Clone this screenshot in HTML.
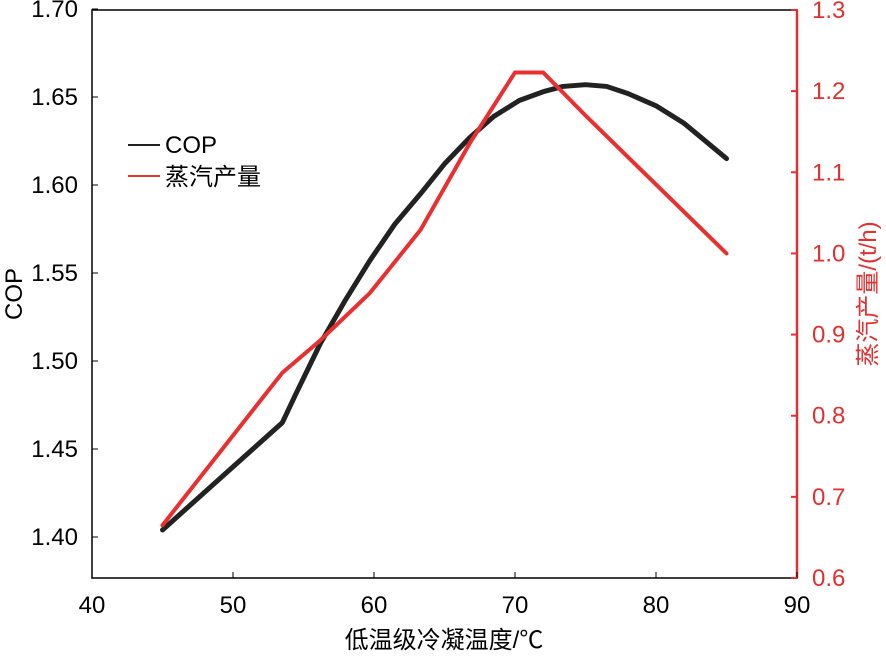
<!DOCTYPE html>
<html><head><meta charset="utf-8"><style>
body{margin:0;background:#fff;width:886px;height:656px;overflow:hidden}
text{font-family:"Liberation Sans","Noto Sans CJK SC",sans-serif}
</style></head><body>
<svg id="chart" width="886" height="656"></svg>
<script>
const xTicks=[40,50,60,70,80,90];
const copTicks=[1.40,1.45,1.50,1.55,1.60,1.65,1.70];
const steamTicks=[0.6,0.7,0.8,0.9,1.0,1.1,1.2,1.3];
const copX=[45,53.5,54.5,56.2,58,59.7,61.5,63.3,65,66.8,68.5,70.3,72,73.4,75,76.5,78,80,82,85];
const copY=[1.404,1.465,1.482,1.510,1.535,1.557,1.578,1.595,1.612,1.627,1.639,1.648,1.653,1.656,1.657,1.656,1.652,1.645,1.635,1.615];
const steamX=[45,53.5,56.2,59.7,63.3,66.8,70,72,75,80,85];
const steamY=[0.665,0.853,0.893,0.951,1.029,1.136,1.223,1.223,1.17,1.085,1.0];

const L=92,R=797,T=10,B=578;
const sx=v=>L+(v-40)/50*(R-L);
const syL=v=>537-(v-1.40)/0.05*88;
const syR=v=>B-(v-0.6)/0.7*(B-T);
const svg=document.getElementById('chart');
const NS='http://www.w3.org/2000/svg';
function mk(tag,attrs,parent){const e=document.createElementNS(NS,tag);for(const k in attrs)e.setAttribute(k,attrs[k]);(parent||svg).appendChild(e);return e;}

const frame=mk('rect',{x:L,y:T,width:R-L,height:B-T,fill:'none',stroke:'#000','stroke-width':1.5});


const ra=mk('line',{x1:R,y1:T,x2:R,y2:B,stroke:'#e03030','stroke-width':2.5});



xTicks.forEach(v=>{
  mk('line',{x1:sx(v),y1:B,x2:sx(v),y2:B-6,stroke:'#000'});
  const t=mk('text',{x:sx(v),y:613,'font-size':24,'text-anchor':'middle'});t.textContent=v;
  
  
});
copTicks.forEach(v=>{
  mk('line',{x1:L,y1:syL(v),x2:L+6,y2:syL(v),stroke:'#000'});
  const t=mk('text',{x:78,y:syL(v)+8,'font-size':24,'text-anchor':'end'});t.textContent=v.toFixed(2);
  
  
});
steamTicks.forEach(v=>{
  mk('line',{x1:R,y1:syR(v),x2:R-6,y2:syR(v),stroke:'#e03030','stroke-width':2});
  const t=mk('text',{x:812,y:syR(v)+8,'font-size':24,fill:'#e03030'});t.textContent=v.toFixed(1);
  
  
});
const xt=mk('text',{x:444,y:648,'font-size':24,'text-anchor':'middle'});xt.textContent='低温级冷凝温度/℃';


const yt=mk('text',{x:0,y:0,'font-size':24,'text-anchor':'middle',transform:'translate(22,294) rotate(-90)'});yt.textContent='COP';


const yr=mk('text',{x:0,y:0,'font-size':24,'text-anchor':'middle',fill:'#e03030',transform:'translate(876,294) rotate(-90)'});yr.textContent='蒸汽产量/(t/h)';



const cop=mk('polyline',{points:copX.map((x,i)=>sx(x)+','+syL(copY[i])).join(' '),fill:'none',stroke:'#222','stroke-width':5,'stroke-linejoin':'round','stroke-linecap':'round'});


const st=mk('polyline',{points:steamX.map((x,i)=>sx(x)+','+syR(steamY[i])).join(' '),fill:'none',stroke:'#e83030','stroke-width':4,'stroke-linejoin':'miter','stroke-linecap':'round'});



const lg=mk('g',{});


mk('line',{x1:128,y1:145,x2:160,y2:145,stroke:'#222','stroke-width':2},lg);
const l1=mk('text',{x:165,y:153,'font-size':24},lg);l1.textContent='COP';


mk('line',{x1:128,y1:176,x2:160,y2:176,stroke:'#e83030','stroke-width':2},lg);
const l2=mk('text',{x:165,y:185,'font-size':24},lg);l2.textContent='蒸汽产量';


</script>
</body></html>
